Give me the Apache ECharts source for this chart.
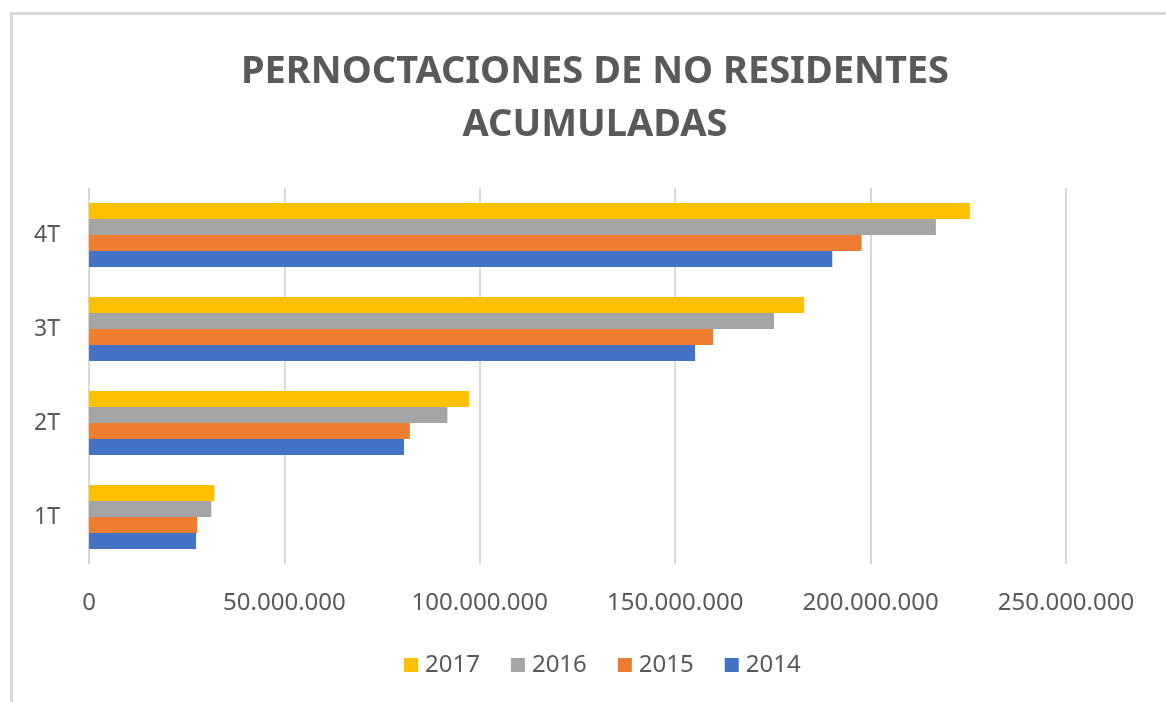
<!DOCTYPE html>
<html>
<head>
<meta charset="utf-8">
<script src="https://cdn.jsdelivr.net/npm/echarts@6/dist/echarts.min.js"></script>
<style>
    body { margin: 0; background: #fff; }
    #chart { width: 1166px; height: 702px; }
</style>
</head>
<body>
<div id="chart"></div>
<script>
// trimestres (de abajo arriba)
var categories = ['1T', '2T', '3T', '4T'];
// pernoctaciones acumuladas por año
var v2017 = [32100000, 97300000, 183000000, 225400000];
var v2016 = [31300000, 91700000, 175300000, 216700000];
var v2015 = [27700000, 82100000, 159700000, 197700000];
var v2014 = [27400000, 80600000, 155100000, 190200000];
var xTicks = [0, 50000000, 100000000, 150000000, 200000000, 250000000];

var font = '"Noto Sans", sans-serif';
var grey = '#595959';

function miles(v) { // 50000000 -> 50.000.000
    return String(v).replace(/\B(?=(\d{3})+(?!\d))/g, '.');
}

function serie(name, data, color) {
    return {
        name: name,
        type: 'bar',
        data: data,
        barWidth: 16,
        barGap: '0%',
        itemStyle: { color: color },
        emphasis: { disabled: true }
    };
}

var myChart = echarts.init(document.getElementById('chart'));
var option = {
    animation: false,
    title: {
        text: 'PERNOCTACIONES DE NO RESIDENTES\nACUMULADAS',
        left: 590,
        top: 41,
        textAlign: 'center',
        textStyle: {
            fontFamily: font,
            fontWeight: 'bold',
            fontSize: 38,
            lineHeight: 53,
            color: grey
        }
    },
    legend: {
        data: ['2017', '2016', '2015', '2014'],
        left: 399,
        top: 648,
        icon: 'rect',
        itemWidth: 14,
        itemHeight: 14,
        itemGap: 31,
        textStyle: { fontFamily: font, fontSize: 24, color: grey, padding: [0, 0, 0, 2] }
    },
    grid: { left: 89, right: 100, top: 188, bottom: 138 },
    xAxis: {
        type: 'value',
        min: 0,
        max: 250000000,
        interval: 50000000,
        axisLine: { show: false },
        axisTick: { show: false },
        splitLine: { lineStyle: { color: '#d9d9d9', width: 2 } },
        axisLabel: {
            margin: 27,
            fontFamily: font,
            fontSize: 24,
            color: grey,
            formatter: function (v) { return xTicks.indexOf(v) >= 0 ? miles(v) : ''; }
        }
    },
    yAxis: {
        type: 'category',
        data: categories,
        axisLine: { show: false },
        axisTick: { show: false },
        axisLabel: { margin: 29, fontFamily: font, fontSize: 23, color: grey }
    },
    graphic: [
        { type: 'line', shape: { x1: 11.5, y1: 13, x2: 11.5, y2: 702 }, style: { stroke: '#d9d9d9', lineWidth: 3 } },
        { type: 'line', shape: { x1: 10, y1: 13.5, x2: 1166, y2: 13.5 }, style: { stroke: '#d9d9d9', lineWidth: 3 } }
    ],
    series: [
        serie('2017', v2017, '#FFC000'),
        serie('2016', v2016, '#A5A5A5'),
        serie('2015', v2015, '#ED7D31'),
        serie('2014', v2014, '#4472C4')
    ]
};
myChart.setOption(option);
</script>
</body>
</html>
